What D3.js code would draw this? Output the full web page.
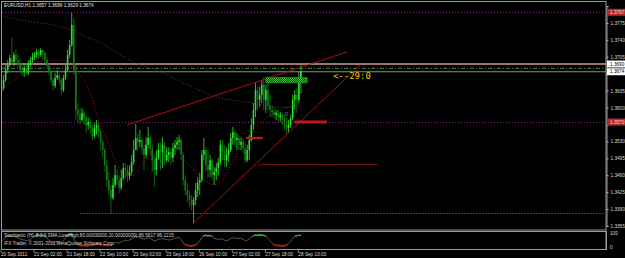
<!DOCTYPE html>
<html>
<head>
<meta charset="utf-8">
<script src="https://cdnjs.cloudflare.com/ajax/libs/d3/7.8.5/d3.min.js"></script>
<style>
  body { margin: 0; background: #000; }
  #chart { width: 625px; height: 258px; }
  text { font-family: 'Liberation Sans', Arial, sans-serif; }
</style>
</head>
<body>
<div id="chart"></div>
<script>
(function () {
  // EURUSD H1, 20 Sep 10:00 .. 28 Sep 11:00 (one value per bar)
  var opens = [
    1.3632,1.3640,1.3657,1.3678,1.3688,1.3702,1.3694,1.3709,1.3698,1.3688,
    1.3678,1.3674,1.3682,1.3671,1.3692,1.3698,1.3705,1.3709,1.3715,1.3709,
    1.3719,1.3713,1.3698,1.3686,1.3674,1.3657,1.3645,1.3661,1.3667,1.3657,
    1.3636,1.3661,1.3678,1.3709,1.3729,1.3771,1.3678,1.3595,1.3585,1.3574,
    1.3589,1.3578,1.3564,1.3570,1.3558,1.3541,1.3558,1.3564,1.3549,1.3529,
    1.3512,1.3481,1.3450,1.3429,1.3413,1.3440,1.3460,1.3450,1.3434,1.3454,
    1.3475,1.3471,1.3458,1.3467,1.3487,1.3512,1.3537,1.3529,1.3533,1.3516,
    1.3502,1.3523,1.3537,1.3516,1.3491,1.3471,1.3496,1.3512,1.3508,1.3523,
    1.3491,1.3502,1.3508,1.3496,1.3516,1.3523,1.3529,1.3533,1.3502,1.3450,
    1.3429,1.3419,1.3409,1.3398,1.3409,1.3429,1.3444,1.3450,1.3502,1.3512,
    1.3481,1.3471,1.3491,1.3460,1.3467,1.3475,1.3487,1.3523,1.3508,1.3491,
    1.3502,1.3512,1.3537,1.3549,1.3533,1.3537,1.3523,1.3529,1.3516,1.3491,
    1.3512,1.3533,1.3564,1.3595,1.3636,1.3616,1.3626,1.3647,1.3616,1.3636,
    1.3605,1.3595,1.3591,1.3585,1.3589,1.3580,1.3585,1.3574,1.3564,1.3558,
    1.3564,1.3578,1.3616,1.3626,1.3616,1.3657
  ];
  var highs = [
    1.3657,1.3667,1.3688,1.3698,1.3709,1.3744,1.3715,1.3719,1.3709,1.3702,
    1.3692,1.3688,1.3692,1.3698,1.3705,1.3713,1.3715,1.3721,1.3719,1.3723,
    1.3719,1.3715,1.3705,1.3692,1.3678,1.3661,1.3671,1.3678,1.3671,1.3661,
    1.3667,1.3688,1.3719,1.3740,1.3796,1.3785,1.3688,1.3609,1.3599,1.3599,
    1.3595,1.3585,1.3580,1.3578,1.3564,1.3568,1.3574,1.3568,1.3554,1.3533,
    1.3516,1.3491,1.3467,1.3440,1.3454,1.3481,1.3471,1.3460,1.3471,1.3485,
    1.3485,1.3481,1.3481,1.3502,1.3533,1.3566,1.3547,1.3554,1.3539,1.3523,
    1.3539,1.3560,1.3543,1.3523,1.3502,1.3512,1.3527,1.3527,1.3539,1.3529,
    1.3518,1.3518,1.3516,1.3527,1.3533,1.3539,1.3543,1.3539,1.3508,1.3460,
    1.3444,1.3429,1.3419,1.3415,1.3444,1.3456,1.3465,1.3512,1.3537,1.3518,
    1.3512,1.3502,1.3496,1.3477,1.3485,1.3496,1.3533,1.3533,1.3523,1.3518,
    1.3527,1.3547,1.3560,1.3554,1.3547,1.3543,1.3539,1.3537,1.3527,1.3523,
    1.3543,1.3578,1.3609,1.3651,1.3643,1.3643,1.3657,1.3663,1.3647,1.3657,
    1.3626,1.3605,1.3601,1.3595,1.3595,1.3591,1.3589,1.3585,1.3578,1.3574,
    1.3585,1.3626,1.3636,1.3640,1.3674,1.3689
  ];
  var lows = [
    1.3622,1.3636,1.3653,1.3671,1.3684,1.3688,1.3686,1.3694,1.3682,1.3671,
    1.3667,1.3663,1.3667,1.3667,1.3684,1.3692,1.3698,1.3702,1.3702,1.3705,
    1.3698,1.3692,1.3682,1.3667,1.3651,1.3636,1.3640,1.3657,1.3647,1.3626,
    1.3632,1.3657,1.3674,1.3702,1.3725,1.3667,1.3574,1.3568,1.3564,1.3570,
    1.3564,1.3547,1.3554,1.3547,1.3533,1.3537,1.3543,1.3539,1.3512,1.3498,
    1.3467,1.3436,1.3419,1.3382,1.3409,1.3434,1.3440,1.3423,1.3429,1.3450,
    1.3454,1.3446,1.3450,1.3460,1.3481,1.3512,1.3512,1.3518,1.3502,1.3471,
    1.3496,1.3516,1.3502,1.3467,1.3436,1.3460,1.3491,1.3471,1.3475,1.3481,
    1.3487,1.3487,1.3481,1.3487,1.3502,1.3512,1.3512,1.3491,1.3440,1.3419,
    1.3403,1.3394,1.3388,1.3361,1.3398,1.3415,1.3419,1.3446,1.3491,1.3467,
    1.3454,1.3456,1.3450,1.3440,1.3450,1.3460,1.3481,1.3491,1.3477,1.3477,
    1.3487,1.3508,1.3523,1.3518,1.3512,1.3512,1.3512,1.3506,1.3485,1.3487,
    1.3491,1.3529,1.3554,1.3580,1.3595,1.3601,1.3609,1.3595,1.3589,1.3595,
    1.3580,1.3580,1.3578,1.3574,1.3570,1.3570,1.3564,1.3554,1.3543,1.3549,
    1.3558,1.3574,1.3595,1.3589,1.3609,1.3629
  ];
  var closes = [
    1.3640,1.3657,1.3678,1.3688,1.3702,1.3694,1.3709,1.3698,1.3688,1.3678,
    1.3674,1.3682,1.3671,1.3692,1.3698,1.3705,1.3709,1.3715,1.3709,1.3719,
    1.3713,1.3698,1.3686,1.3674,1.3657,1.3645,1.3661,1.3667,1.3657,1.3636,
    1.3661,1.3678,1.3709,1.3729,1.3771,1.3678,1.3595,1.3585,1.3574,1.3589,
    1.3578,1.3564,1.3570,1.3558,1.3541,1.3558,1.3564,1.3549,1.3529,1.3512,
    1.3481,1.3450,1.3429,1.3413,1.3440,1.3460,1.3450,1.3434,1.3454,1.3475,
    1.3471,1.3458,1.3467,1.3487,1.3512,1.3537,1.3529,1.3533,1.3516,1.3502,
    1.3523,1.3537,1.3516,1.3491,1.3471,1.3496,1.3512,1.3508,1.3523,1.3491,
    1.3502,1.3508,1.3496,1.3516,1.3523,1.3529,1.3533,1.3502,1.3450,1.3429,
    1.3419,1.3409,1.3398,1.3409,1.3429,1.3444,1.3450,1.3502,1.3512,1.3481,
    1.3471,1.3491,1.3460,1.3467,1.3475,1.3487,1.3523,1.3508,1.3491,1.3502,
    1.3512,1.3537,1.3549,1.3533,1.3537,1.3523,1.3529,1.3516,1.3491,1.3512,
    1.3533,1.3564,1.3595,1.3636,1.3616,1.3626,1.3647,1.3616,1.3636,1.3605,
    1.3595,1.3591,1.3585,1.3589,1.3580,1.3585,1.3574,1.3564,1.3558,1.3564,
    1.3578,1.3616,1.3626,1.3616,1.3657,1.3674
  ];

  // stochastic main line, one value per bar
  var stoch = [
    40,55,70,78,80,76,78,72,68,60,55,52,48,50,58,
    70,78,85,88,84,86,82,
    65,50,38,30,35,40,38,30,45,
    70,85,90,95,
    60,30,18,12,10,12,8,10,
    15,12,20,25,22,18,15,14,12,10,15,
    25,35,30,28,38,45,50,48,52,60,70,78,75,
    72,65,58,62,70,65,55,45,50,58,60,62,58,55,52,55,60,65,68,70,55,
    30,18,12,10,8,10,18,25,
    45,70,82,85,80,84,78,
    65,60,55,62,58,50,48,52,
    62,68,65,66,62,64,58,
    45,50,60,72,
    82,88,85,90,88,84,
    78,65,
    45,30,18,12,10,12,8,10,15,
    25,40,65,78,82,85,86.6
  ];

  // moving averages, read at a few bars
  var slowMaBars = [0, 15, 25, 34, 41, 48, 56, 64, 77, 90, 104, 119, 130, 145];
  var slowMa = [1.3789, 1.3777, 1.3771, 1.3760, 1.3746, 1.3734, 1.3713, 1.3694, 1.3674, 1.3647, 1.3622, 1.3611, 1.3603, 1.3599];
  var fastMaBars = [0, 8, 16, 24, 34, 38, 43, 47, 51, 55, 59, 64, 67, 72, 77, 90, 98, 104, 115, 122, 129, 135, 145];
  var fastMa = [1.3640, 1.3663, 1.3692, 1.3698, 1.3694, 1.3667, 1.3630, 1.3574, 1.3533, 1.3491, 1.3465, 1.3460, 1.3477, 1.3502,
                1.3506, 1.3485, 1.3450, 1.3440, 1.3512, 1.3554, 1.3580, 1.3595, 1.3605];

  var timeLabels = ['20 Sep 2011', '21 Sep 02:00', '21 Sep 18:00', '22 Sep 10:00', '23 Sep 02:00',
                    '23 Sep 18:00', '26 Sep 10:00', '27 Sep 02:00', '27 Sep 18:00', '28 Sep 10:00'];
  var timeLabelBars = [0, 16, 32, 48, 64, 80, 96, 112, 128, 144];
  var priceTicks = [1.3355, 1.3390, 1.3425, 1.3460, 1.3495, 1.3530, 1.3565, 1.3600,
                    1.3635, 1.3670, 1.3705, 1.3740, 1.3775, 1.3810];

  // drawn objects: [bar, price]
  var trendLines = [
    [[60.8, 1.3564], [167.3, 1.3715]],
    [[92.9, 1.3361], [173.6, 1.3688]]
  ];
  var dottedLevels = [1.3797, 1.3570];
  var supportLevels = [[38, 292, 1.3382], [124.5, 182, 1.3483]];
  var redBars = [[118.5, 126.6, 1.3537, 2], [141.8, 157.6, 1.3570, 3]];
  var zone = [128, 148, 1.3651, 1.3662];
  var askLine = 1.3690;
  var bidLine = 1.3674;
  var midLine = 1.3681;

  var W = 625, H = 258;
  var plotRight = 606;

  var x = d3.scaleLinear().domain([0, 292]).range([1.5, 604.5]);
  var y = d3.scaleLinear().domain([1.3355, 1.3810]).range([226, 6]);
  var ys = d3.scaleLinear().domain([0, 100]).range([247, 233.5]);

  var svg = d3.select('#chart').append('svg')
        .attr('width', W)
        .attr('height', H);

  svg.append('rect').attr('width', W).attr('height', H).attr('fill', '#000');

  var defs = svg.append('defs');
  defs.append('clipPath').attr('id', 'mainClip')
    .append('rect').attr('x', 2).attr('y', 2).attr('width', plotRight - 2).attr('height', 228);
  defs.append('clipPath').attr('id', 'stochHi')
    .append('rect').attr('x', 0).attr('y', 225).attr('width', plotRight).attr('height', ys(80) - 225);
  defs.append('clipPath').attr('id', 'stochLo')
    .append('rect').attr('x', 0).attr('y', ys(20)).attr('width', plotRight).attr('height', 20);
  var pat = defs.append('pattern').attr('id', 'hatch')
        .attr('width', 2).attr('height', 2).attr('patternUnits', 'userSpaceOnUse');
  pat.append('rect').attr('width', 2).attr('height', 2).attr('fill', '#0d4d0d');
  pat.append('rect').attr('width', 1).attr('height', 1).attr('fill', '#3cb83c');
  pat.append('rect').attr('x', 1).attr('y', 1).attr('width', 1).attr('height', 1).attr('fill', '#3cb83c');

  // frames
  svg.append('rect').attr('x', 1.5).attr('y', 1.5).attr('width', plotRight - 1.5).attr('height', 228.5)
    .attr('fill', 'none').attr('stroke', '#9c9c9c');
  svg.append('rect').attr('x', 1.5).attr('y', 231.5).attr('width', plotRight - 1.5).attr('height', 18)
    .attr('fill', 'none').attr('stroke', '#9c9c9c');

  var main = svg.append('g').attr('clip-path', 'url(#mainClip)');

  // horizontal levels
  main.selectAll('.lvl').data(dottedLevels).enter().append('line')
    .attr('x1', 2).attr('x2', plotRight)
    .attr('y1', function (d) { return Math.round(y(d)) + 0.5; })
    .attr('y2', function (d) { return Math.round(y(d)) + 0.5; })
    .attr('stroke', '#8a2a8a').attr('stroke-dasharray', '1,2');

  main.selectAll('.sup').data(supportLevels).enter().append('line')
    .attr('x1', function (d) { return x(d[0]); })
    .attr('x2', function (d) { return x(d[1]); })
    .attr('y1', function (d) { return Math.round(y(d[2])) + 0.5; })
    .attr('y2', function (d) { return Math.round(y(d[2])) + 0.5; })
    .attr('stroke', '#a01818').attr('stroke-dasharray', '2,1');

  main.append('line').attr('x1', 2).attr('x2', plotRight)
    .attr('y1', y(askLine)).attr('y2', y(askLine))
    .attr('stroke', '#d89a9a').attr('stroke-width', 1.6);
  main.append('line').attr('x1', 2).attr('x2', plotRight)
    .attr('y1', y(midLine)).attr('y2', y(midLine))
    .attr('stroke', '#1e7a1e').attr('stroke-width', 1.2).attr('stroke-dasharray', '4,2,1,2');
  main.append('line').attr('x1', 2).attr('x2', plotRight)
    .attr('y1', y(bidLine)).attr('y2', y(bidLine))
    .attr('stroke', '#8c8c8c').attr('stroke-width', 1.2);

  // moving averages
  var maLine = d3.line()
        .x(function (d) { return x(d[0]); })
        .y(function (d) { return y(d[1]); })
        .curve(d3.curveMonotoneX);
  main.append('path')
    .attr('d', maLine(d3.zip(slowMaBars, slowMa)))
    .attr('fill', 'none').attr('stroke', '#7a2a7a').attr('stroke-dasharray', '1,2');
  main.append('path')
    .attr('d', maLine(d3.zip(fastMaBars, fastMa)))
    .attr('fill', 'none').attr('stroke', '#a81c1c').attr('stroke-dasharray', '1,2');

  // candles
  var idx = d3.range(closes.length);
  var upCol = '#2ee02e', dnCol = '#0f7f0f';
  var candle = main.selectAll('.candle').data(idx).enter().append('g').attr('class', 'candle');
  candle.append('line')
    .attr('x1', function (i) { return x(i); })
    .attr('x2', function (i) { return x(i); })
    .attr('y1', function (i) { return y(highs[i]); })
    .attr('y2', function (i) { return y(lows[i]); })
    .attr('stroke', function (i) { return closes[i] >= opens[i] ? upCol : dnCol; })
    .attr('stroke-width', 0.8);
  candle.append('rect')
    .attr('x', function (i) { return x(i) - 0.8; })
    .attr('width', 1.6)
    .attr('y', function (i) { return y(Math.max(opens[i], closes[i])); })
    .attr('height', function (i) { return Math.max(0.8, Math.abs(y(opens[i]) - y(closes[i]))); })
    .attr('fill', function (i) { return closes[i] >= opens[i] ? upCol : dnCol; });

  // drawn objects
  main.selectAll('.trend').data(trendLines).enter().append('line')
    .attr('x1', function (d) { return x(d[0][0]); })
    .attr('y1', function (d) { return y(d[0][1]); })
    .attr('x2', function (d) { return x(d[1][0]); })
    .attr('y2', function (d) { return y(d[1][1]); })
    .attr('stroke', '#b01414').attr('stroke-width', 0.9);

  main.selectAll('.rbar').data(redBars).enter().append('line')
    .attr('x1', function (d) { return x(d[0]); })
    .attr('x2', function (d) { return x(d[1]); })
    .attr('y1', function (d) { return y(d[2]); })
    .attr('y2', function (d) { return y(d[2]); })
    .attr('stroke', '#c01818')
    .attr('stroke-width', function (d) { return d[3]; });

  main.append('rect')
    .attr('x', x(zone[0])).attr('width', x(zone[1]) - x(zone[0]))
    .attr('y', y(zone[3])).attr('height', y(zone[2]) - y(zone[3]))
    .attr('fill', 'url(#hatch)').attr('stroke', '#2a9a2a').attr('stroke-width', 0.6);

  main.append('text')
    .attr('x', x(160.5)).attr('y', y(1.3660))
    .attr('fill', '#e0cc00')
    .style('font-family', "'DejaVu Sans Mono', monospace")
    .style('font-size', '9px')
    .text('<--29:0');

  main.append('text')
    .attr('x', x(137.3)).attr('y', y(1.3582))
    .attr('fill', '#2aa8c8').style('font-size', '5px')
    .text('0');

  // stochastic
  var stLine = d3.line()
        .x(function (d, i) { return x(i); })
        .y(function (d) { return ys(d); });
  var st = svg.append('g');
  st.append('path').attr('d', stLine(stoch))
    .attr('fill', 'none').attr('stroke', '#6a6a6a').attr('stroke-width', 0.8);
  st.append('path').attr('d', stLine(stoch)).attr('clip-path', 'url(#stochHi)')
    .attr('fill', 'none').attr('stroke', '#1fb81f').attr('stroke-width', 1.8);
  st.append('path').attr('d', stLine(stoch)).attr('clip-path', 'url(#stochLo)')
    .attr('fill', 'none').attr('stroke', '#c81414').attr('stroke-width', 1.8);

  // price boxes on the axis
  var boxes = [
    { p: dottedLevels[0], bg: '#b82a2a', fg: '#f0d0d0' },
    { p: askLine, bg: '#ffffff', fg: '#000000' },
    { p: bidLine, bg: '#ffffff', fg: '#000000' },
    { p: dottedLevels[1], bg: '#b82a2a', fg: '#f0d0d0' }
  ];

  // price axis; labels hidden behind a price box are left out, as in the terminal
  var axis = svg.append('g')
        .attr('transform', 'translate(' + (plotRight + 0.5) + ',0)')
        .call(d3.axisRight(y).tickValues(priceTicks).tickSize(2).tickPadding(2)
              .tickFormat(d3.format('.4f')));
  axis.select('.domain').attr('stroke', '#9c9c9c');
  axis.selectAll('.tick line').attr('stroke', '#bbb');
  axis.selectAll('.tick text').attr('fill', '#d8d8d8').style('font-size', '4.7px')
    .style('font-family', "'Liberation Sans', Arial, sans-serif");
  axis.selectAll('.tick').filter(function (t) {
    return boxes.some(function (b) { return Math.abs(y(b.p) - y(t)) < 7; });
  }).select('text').remove();
  svg.append('line').attr('x1', plotRight + 0.5).attr('x2', plotRight + 0.5)
    .attr('y1', 231).attr('y2', 250).attr('stroke', '#9c9c9c');

  var box = svg.selectAll('.pbox').data(boxes).enter().append('g');
  box.append('rect')
    .attr('x', plotRight + 1).attr('width', W - plotRight - 1)
    .attr('y', function (d) { return y(d.p) - 3.5; }).attr('height', 7)
    .attr('fill', function (d) { return d.bg; });
  box.append('text')
    .attr('x', plotRight + 4).attr('y', function (d) { return y(d.p) + 1.7; })
    .attr('fill', function (d) { return d.fg; })
    .style('font-size', '4.7px')
    .text(function (d) { return d3.format('.4f')(d.p); });

  // stochastic scale labels
  svg.selectAll('.slab').data([100, 0]).enter().append('text')
    .attr('x', plotRight + 4)
    .attr('y', function (d) { return ys(d) + 1.7; })
    .attr('fill', '#d8d8d8').style('font-size', '4.7px')
    .text(function (d) { return d; });

  // time axis
  var tl = svg.selectAll('.tlab').data(timeLabelBars).enter().append('g');
  tl.append('line')
    .attr('x1', function (d) { return x(d) - 0.5; })
    .attr('x2', function (d) { return x(d) - 0.5; })
    .attr('y1', 250).attr('y2', 252.5).attr('stroke', '#bbb').attr('stroke-width', 0.7);
  tl.append('text')
    .attr('x', function (d) { return x(d) - 0.5; })
    .attr('y', 256)
    .attr('fill', '#d8d8d8').style('font-size', '4.7px')
    .text(function (d, i) { return timeLabels[i]; });

  // captions
  svg.append('text').attr('x', 4).attr('y', 7)
    .attr('fill', '#e0e0e0').style('font-size', '4.7px')
    .text('EURUSD,H1  1.3657 1.3689 1.3629 1.3674');
  svg.append('text').attr('x', 4).attr('y', 236.5)
    .attr('fill', '#d0d0d0').style('font-size', '4.7px')
    .text('Stochastic (H1,8,3,3,SMA,Low/High,80.00000000,20.00000000) 86.5617 86.1215');
  svg.append('text').attr('x', 4).attr('y', 245)
    .attr('fill', '#d0d0d0').style('font-size', '4.7px')
    .text('IFX Trader, \u00a9 2001-2011 MetaQuotes Software Corp.');
})();
</script>
</body>
</html>
